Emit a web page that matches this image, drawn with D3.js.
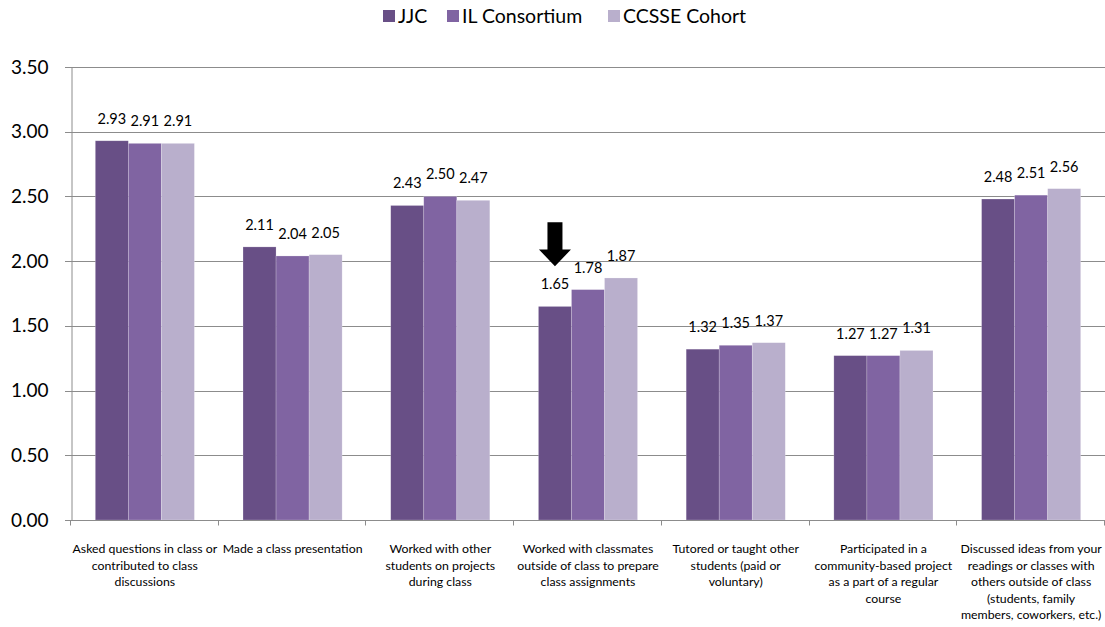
<!DOCTYPE html>
<html>
<head>
<meta charset="utf-8">
<script src="https://cdn.jsdelivr.net/npm/d3@7"></script>
<style>
  body { margin: 0; background: #fff; }
  svg { display: block; font-family: Lato, "Open Sans", sans-serif; }
</style>
</head>
<body>
<svg id="chart" width="1105" height="627"></svg>
<script>
// Category labels, pre-broken into lines
const categories = [
  ["Asked questions in class or", "contributed to class", "discussions"],
  ["Made a class presentation"],
  ["Worked with other", "students on projects", "during class"],
  ["Worked with classmates", "outside of class to prepare", "class assignments"],
  ["Tutored or taught other", "students (paid or", "voluntary)"],
  ["Participated in a", "community-based project", "as a part of a regular", "course"],
  ["Discussed ideas from your", "readings or classes with", "others outside of class", "(students, family", "members, coworkers, etc.)"]
];
const seriesNames = ["JJC", "IL Consortium", "CCSSE Cohort"];
const jjc = [2.93, 2.11, 2.43, 1.65, 1.32, 1.27, 2.48];
const ilConsortium = [2.91, 2.04, 2.50, 1.78, 1.35, 1.27, 2.51];
const ccsseCohort = [2.91, 2.05, 2.47, 1.87, 1.37, 1.31, 2.56];
const yTicks = [0, 0.5, 1.0, 1.5, 2.0, 2.5, 3.0, 3.5];
const highlightIndex = 3; // category marked with an arrow

const colors = ["#684f86", "#8064a2", "#b9afcc"];
const series = [jjc, ilConsortium, ccsseCohort];

const svg = d3.select("#chart");
const margin = { left: 71, right: 0, top: 67, bottom: 107 };
const W = 1105, H = 627;

const x0 = d3.scaleBand()
  .domain(d3.range(categories.length))
  .range([margin.left, W - margin.right])
  .paddingInner(0).paddingOuter(0);

const groupPad = 24.3;
const x1 = d3.scaleBand()
  .domain(d3.range(series.length))
  .range([groupPad, x0.bandwidth() - groupPad])
  .padding(0);

const y = d3.scaleLinear().domain([0, 3.5]).range([H - margin.bottom, margin.top]);

// gridlines
svg.append("g")
  .selectAll("line")
  .data(yTicks)
  .join("line")
  .attr("x1", margin.left - 6)
  .attr("x2", W - margin.right)
  .attr("y1", d => Math.round(y(d)) + 0.5)
  .attr("y2", d => Math.round(y(d)) + 0.5)
  .attr("stroke", "#8c8c8c")
  .attr("stroke-width", 1);

// y axis
const yAxis = d3.axisLeft(y).tickValues(yTicks).tickFormat(d3.format(".2f")).tickSize(0).tickPadding(8);
const yg = svg.append("g").attr("transform", `translate(${margin.left + 0.5},0)`).call(yAxis);
yg.select(".domain").attr("stroke", "#8c8c8c");
yg.selectAll("text")
  .attr("font-size", 19)
  .attr("fill", "#000")
  .attr("font-family", "Lato, 'Open Sans', sans-serif")
  .attr("x", -23)
  .attr("text-anchor", "end");

// bars
const groups = svg.append("g")
  .selectAll("g")
  .data(categories.map((c, i) => i))
  .join("g")
  .attr("transform", i => `translate(${x0(i)},0)`);

groups.selectAll("rect")
  .data(i => series.map((s, k) => ({ k, v: s[i] })))
  .join("rect")
  .attr("x", d => x1(d.k))
  .attr("y", d => y(d.v))
  .attr("width", x1.bandwidth())
  .attr("height", d => y(0) - y(d.v))
  .attr("fill", d => colors[d.k])
  .attr("stroke", "rgba(255,255,255,0.35)")
  .attr("stroke-width", 0.6);

groups.selectAll("text.val")
  .data(i => series.map((s, k) => ({ k, v: s[i] })))
  .join("text")
  .attr("class", "val")
  .attr("x", d => x1(d.k) + x1.bandwidth() / 2)
  .attr("y", d => y(d.v) - 17)
  .attr("text-anchor", "middle")
  .attr("font-size", 14.5)
  .attr("fill", "#000")
  .text(d => d.v.toFixed(2));

// x axis line and ticks
const baseY = Math.round(y(0)) + 0.5;
svg.append("line")
  .attr("x1", margin.left).attr("x2", W - margin.right)
  .attr("y1", baseY).attr("y2", baseY)
  .attr("stroke", "#8c8c8c");
svg.append("g")
  .selectAll("line")
  .data(d3.range(categories.length + 1))
  .join("line")
  .attr("x1", i => Math.round(margin.left + i * x0.bandwidth()) - 0.5)
  .attr("x2", i => Math.round(margin.left + i * x0.bandwidth()) - 0.5)
  .attr("y1", baseY).attr("y2", baseY + 5)
  .attr("stroke", "#8c8c8c");

// category labels
const catG = svg.append("g")
  .selectAll("text")
  .data(categories)
  .join("text")
  .attr("x", (d, i) => x0(i) + x0.bandwidth() / 2)
  .attr("y", 553)
  .attr("text-anchor", "middle")
  .attr("font-size", 12.3)
  .attr("fill", "#000");
catG.selectAll("tspan")
  .data(d => d)
  .join("tspan")
  .attr("x", function () { return this.parentNode.getAttribute("x"); })
  .attr("dy", (d, i) => i === 0 ? 0 : 16.5)
  .text(d => d);

// arrow above the highlighted category's first bar
const ax = x0(highlightIndex) + x1(0) + x1.bandwidth() / 2;
const aTop = y(2.30), aNeck = y(2.09), aTip = y(1.96);
svg.append("path")
  .attr("d", `M${ax - 7.5},${aTop} L${ax + 7.5},${aTop} L${ax + 7.5},${aNeck} L${ax + 16},${aNeck} L${ax},${aTip} L${ax - 16},${aNeck} L${ax - 7.5},${aNeck} Z`)
  .attr("fill", "#000");

// legend
const legendX = [383, 447, 608];
const lg = svg.append("g")
  .selectAll("g")
  .data(seriesNames)
  .join("g")
  .attr("transform", (d, i) => `translate(${legendX[i]},0)`);
lg.append("rect")
  .attr("x", 0).attr("y", 10)
  .attr("width", 12).attr("height", 12)
  .attr("fill", (d, i) => colors[i]);
lg.append("text")
  .attr("x", 15).attr("y", 23)
  .attr("font-size", 19.5)
  .attr("fill", "#000")
  .text(d => d);
</script>
</body>
</html>
